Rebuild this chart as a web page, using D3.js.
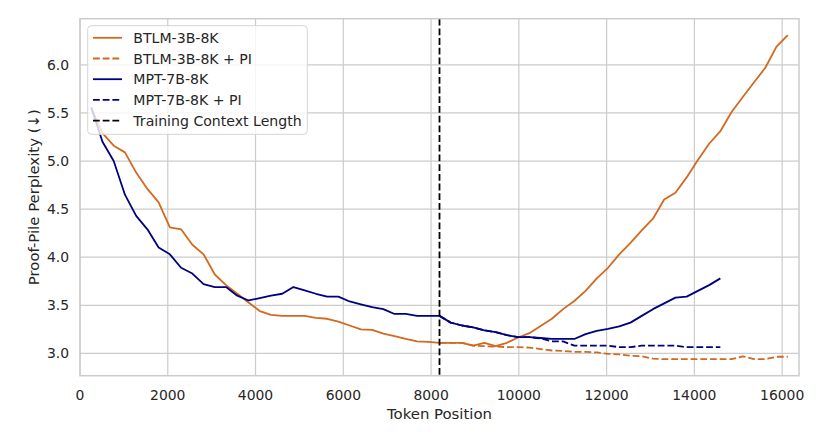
<!DOCTYPE html>
<html lang="en">
<head>
    <meta charset="UTF-8">
    <title>Proof-Pile Perplexity vs Token Position</title>
    <script src="https://cdnjs.cloudflare.com/ajax/libs/d3/7.8.5/d3.min.js"></script>
    <style>
        body {
            margin: 0;
            padding: 0;
            background-color: #ffffff;
            font-family: "DejaVu Sans", sans-serif;
        }
        .grid line {
            stroke: #cccccc;
            stroke-width: 1.2;
        }
        .tick-label {
            font-size: 13.9px;
            fill: #262626;
        }
        .axis-label {
            font-size: 14.9px;
            fill: #262626;
        }
        .legend text {
            font-size: 14.1px;
            fill: #262626;
        }
    </style>
</head>
<body>
    <div id="chart"></div>

    <script>
        const width = 826;
        const height = 434;

        // token positions (every 256 tokens)
        const tokens = [
            256, 512, 768, 1024, 1280, 1536, 1792, 2048, 2304, 2560,
            2816, 3072, 3328, 3584, 3840, 4096, 4352, 4608, 4864, 5120,
            5376, 5632, 5888, 6144, 6400, 6656, 6912, 7168, 7424, 7680,
            7936, 8192, 8448, 8704, 8960, 9216, 9472, 9728, 9984, 10240,
            10496, 10752, 11008, 11264, 11520, 11776, 12032, 12288, 12544, 12800,
            13056, 13312, 13568, 13824, 14080, 14336, 14592, 14848, 15104, 15360,
            15616, 15872, 16128
        ];

        const btlm = [
            5.55, 5.29, 5.16, 5.09, 4.88, 4.71, 4.57, 4.31, 4.29, 4.13,
            4.03, 3.82, 3.71, 3.62, 3.53, 3.44, 3.40, 3.39, 3.39, 3.39,
            3.37, 3.36, 3.33, 3.29, 3.25, 3.245, 3.205, 3.18, 3.15, 3.125,
            3.12, 3.11, 3.11, 3.11, 3.08, 3.11, 3.075, 3.11, 3.165, 3.21,
            3.285, 3.36, 3.46, 3.545, 3.65, 3.78, 3.89, 4.03, 4.15, 4.28,
            4.40, 4.60, 4.67, 4.83, 5.01, 5.18, 5.31, 5.51, 5.665, 5.82,
            5.97, 6.19, 6.31
        ];

        const mpt = [
            5.56, 5.20, 5.00, 4.65, 4.43, 4.29, 4.10, 4.03, 3.89, 3.83,
            3.72, 3.69, 3.69, 3.60, 3.55, 3.575, 3.60, 3.62, 3.69, 3.655,
            3.62, 3.59, 3.59, 3.54, 3.51, 3.48, 3.46, 3.41, 3.41, 3.39,
            3.39, 3.39, 3.32, 3.29, 3.27, 3.24, 3.22, 3.19, 3.17, 3.17,
            3.16, 3.15, 3.15, 3.15, 3.20, 3.235, 3.255, 3.28, 3.32, 3.39,
            3.46, 3.52, 3.58, 3.59, 3.65, 3.71, 3.78
        ];

        // PI runs, starting at the training context length (8192)
        const piStart = 31; // index of 8192 in tokens
        const btlmPI = [
            3.11, 3.11, 3.11, 3.08, 3.075, 3.07, 3.065, 3.065, 3.06, 3.045,
            3.03, 3.025, 3.015, 3.015, 3.01, 2.995, 2.99, 2.975, 2.97, 2.945,
            2.94, 2.94, 2.94, 2.94, 2.94, 2.94, 2.94, 2.97, 2.94, 2.94,
            2.965, 2.965
        ];
        const mptPI = [
            3.39, 3.32, 3.29, 3.27, 3.24, 3.22, 3.19, 3.17, 3.17, 3.155,
            3.125, 3.125, 3.08, 3.08, 3.08, 3.08, 3.065, 3.065, 3.08, 3.08,
            3.08, 3.08, 3.065, 3.065, 3.065, 3.065
        ];

        const trainingContext = 8192;
        const xTicks = [0, 2000, 4000, 6000, 8000, 10000, 12000, 14000, 16000];
        const yTicks = [3.0, 3.5, 4.0, 4.5, 5.0, 5.5, 6.0];

        const orange = "#d2691e";
        const navy = "#000080";
        const dash = "6.8,2.9";

        const series = [
            { name: "BTLM-3B-8K", color: orange, dashed: false, xs: tokens, ys: btlm },
            { name: "BTLM-3B-8K + PI", color: orange, dashed: true, xs: tokens.slice(piStart), ys: btlmPI },
            { name: "MPT-7B-8K", color: navy, dashed: false, xs: tokens, ys: mpt },
            { name: "MPT-7B-8K + PI", color: navy, dashed: true, xs: tokens.slice(piStart), ys: mptPI }
        ];

        const plot = { left: 80, right: 799, top: 18.7, bottom: 375.7 };

        const x = d3.scaleLinear().domain([0, 16384]).range([plot.left, plot.right]);
        const y = d3.scaleLinear().domain([2.768, 6.48]).range([plot.bottom, plot.top]);

        const svg = d3.select("#chart")
            .append("svg")
            .attr("width", width)
            .attr("height", height);

        // grid
        const grid = svg.append("g").attr("class", "grid");
        grid.selectAll("line.v")
            .data(xTicks)
            .enter().append("line")
            .attr("x1", d => x(d)).attr("x2", d => x(d))
            .attr("y1", plot.top).attr("y2", plot.bottom);
        grid.selectAll("line.h")
            .data(yTicks)
            .enter().append("line")
            .attr("x1", plot.left).attr("x2", plot.right)
            .attr("y1", d => y(d)).attr("y2", d => y(d));

        // tick labels
        svg.append("g")
            .selectAll("text")
            .data(xTicks)
            .enter().append("text")
            .attr("class", "tick-label")
            .attr("x", d => x(d))
            .attr("y", 400)
            .attr("text-anchor", "middle")
            .text(d => d);

        svg.append("g")
            .selectAll("text")
            .data(yTicks)
            .enter().append("text")
            .attr("class", "tick-label")
            .attr("x", 69)
            .attr("y", d => y(d))
            .attr("dy", "0.36em")
            .attr("text-anchor", "end")
            .text(d => d3.format(".1f")(d));

        // axis labels
        svg.append("text")
            .attr("class", "axis-label")
            .attr("x", (plot.left + plot.right) / 2)
            .attr("y", 418.5)
            .attr("text-anchor", "middle")
            .text("Token Position");

        svg.append("text")
            .attr("class", "axis-label")
            .attr("transform", `translate(38.5,${(plot.top + plot.bottom) / 2}) rotate(-90)`)
            .attr("text-anchor", "middle")
            .text("Proof-Pile Perplexity (↓)");

        // lines
        svg.append("clipPath").attr("id", "plot-clip")
            .append("rect")
            .attr("x", plot.left).attr("y", plot.top)
            .attr("width", plot.right - plot.left)
            .attr("height", plot.bottom - plot.top);

        const lines = svg.append("g").attr("clip-path", "url(#plot-clip)");

        series.forEach(s => {
            const pts = s.ys.map((v, i) => [s.xs[i], v]);
            lines.append("path")
                .datum(pts)
                .attr("d", d3.line().x(d => x(d[0])).y(d => y(d[1])))
                .attr("fill", "none")
                .attr("stroke", s.color)
                .attr("stroke-width", 1.8)
                .attr("stroke-linejoin", "round")
                .attr("stroke-dasharray", s.dashed ? dash : null);
        });

        lines.append("line")
            .attr("x1", x(trainingContext)).attr("x2", x(trainingContext))
            .attr("y1", plot.top).attr("y2", plot.bottom)
            .attr("stroke", "#000000")
            .attr("stroke-width", 1.8)
            .attr("stroke-dasharray", dash);

        // frame
        svg.append("rect")
            .attr("x", plot.left).attr("y", plot.top)
            .attr("width", plot.right - plot.left)
            .attr("height", plot.bottom - plot.top)
            .attr("fill", "none")
            .attr("stroke", "#cccccc")
            .attr("stroke-width", 1.5);

        // legend
        const legendItems = series.concat([
            { name: "Training Context Length", color: "#000000", dashed: true }
        ]);

        const legend = svg.append("g").attr("class", "legend");
        legend.append("rect")
            .attr("x", 87.7).attr("y", 25.7)
            .attr("width", 219.6).attr("height", 108.6)
            .attr("rx", 3.5)
            .attr("fill", "#ffffff")
            .attr("fill-opacity", 0.8)
            .attr("stroke", "#d6d6d6")
            .attr("stroke-width", 1);

        const row = legend.selectAll("g.item")
            .data(legendItems)
            .enter().append("g")
            .attr("transform", (d, i) => `translate(0,${37.8 + i * 20.7})`);

        row.append("line")
            .attr("x1", 93).attr("x2", 122)
            .attr("stroke", d => d.color)
            .attr("stroke-width", 1.8)
            .attr("stroke-dasharray", d => d.dashed ? dash : null);

        row.append("text")
            .attr("x", 133.3)
            .attr("dy", "0.36em")
            .text(d => d.name);
    </script>
</body>
</html>
